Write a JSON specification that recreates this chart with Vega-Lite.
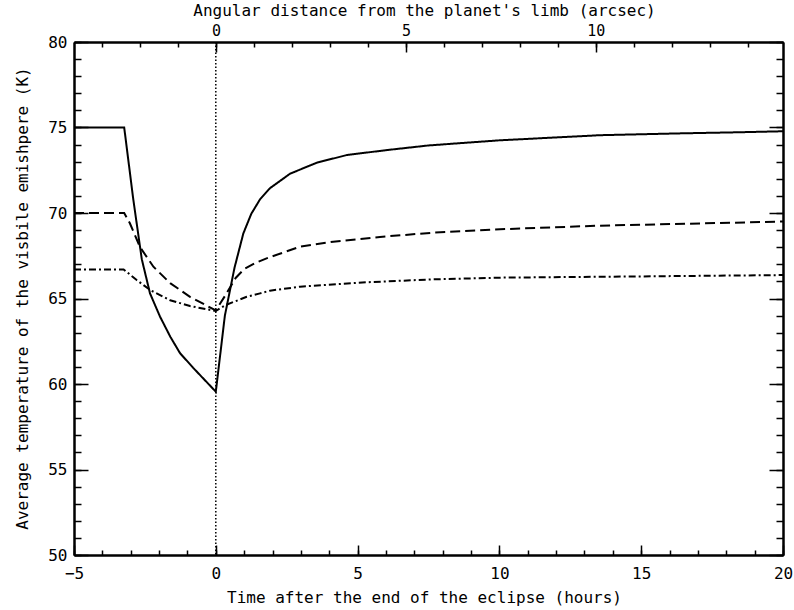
{
  "$schema": "https://vega.github.io/schema/vega-lite/v6.json",
  "width": 709,
  "height": 513,
  "autosize": {"type": "none"},
  "padding": {"left": 74, "top": 42, "right": 11, "bottom": 55},
  "background": "white",
  "config": {
    "view": {"stroke": null},
    "axis": {
      "grid": false,
      "domainColor": "black",
      "domainWidth": 2,
      "tickColor": "black",
      "tickWidth": 1.5,
      "labelColor": "black",
      "titleColor": "black",
      "labelFont": "DejaVu Sans Mono",
      "titleFont": "DejaVu Sans Mono",
      "labelFontSize": 16,
      "titleFontSize": 16,
      "titleFontWeight": "normal",
      "labelFlush": false,
      "labelOverlap": false
    }
  },
  "datasets": {
    "curves": [
      {"model": "solid", "t": -5, "T": 75.0},
      {"model": "solid", "t": -3.23, "T": 75.0},
      {"model": "solid", "t": -2.91, "T": 70.8},
      {"model": "solid", "t": -2.61, "T": 67.3},
      {"model": "solid", "t": -2.32, "T": 65.3},
      {"model": "solid", "t": -1.97, "T": 63.95},
      {"model": "solid", "t": -1.6, "T": 62.75},
      {"model": "solid", "t": -1.26, "T": 61.8},
      {"model": "solid", "t": -0.8, "T": 60.95},
      {"model": "solid", "t": -0.4, "T": 60.25},
      {"model": "solid", "t": 0, "T": 59.55},
      {"model": "solid", "t": 0.32, "T": 64.0},
      {"model": "solid", "t": 0.66, "T": 66.8},
      {"model": "solid", "t": 0.97, "T": 68.8},
      {"model": "solid", "t": 1.25, "T": 69.95},
      {"model": "solid", "t": 1.56, "T": 70.8},
      {"model": "solid", "t": 1.91, "T": 71.45},
      {"model": "solid", "t": 2.62, "T": 72.3},
      {"model": "solid", "t": 3.56, "T": 72.94},
      {"model": "solid", "t": 4.62, "T": 73.39},
      {"model": "solid", "t": 6.03, "T": 73.68},
      {"model": "solid", "t": 7.5, "T": 73.95},
      {"model": "solid", "t": 10, "T": 74.25},
      {"model": "solid", "t": 13.55, "T": 74.55},
      {"model": "solid", "t": 16.47, "T": 74.66},
      {"model": "solid", "t": 18.41, "T": 74.72},
      {"model": "solid", "t": 20, "T": 74.78},
      {"model": "dashed", "t": -5, "T": 70.0},
      {"model": "dashed", "t": -3.23, "T": 70.0},
      {"model": "dashed", "t": -3.03, "T": 69.4},
      {"model": "dashed", "t": -2.67, "T": 68.0},
      {"model": "dashed", "t": -2.2, "T": 66.86},
      {"model": "dashed", "t": -1.61, "T": 65.9},
      {"model": "dashed", "t": -0.91, "T": 65.1},
      {"model": "dashed", "t": 0, "T": 64.3},
      {"model": "dashed", "t": 0.38, "T": 65.3},
      {"model": "dashed", "t": 0.7, "T": 66.2},
      {"model": "dashed", "t": 1.0, "T": 66.72},
      {"model": "dashed", "t": 1.4, "T": 67.08},
      {"model": "dashed", "t": 1.79, "T": 67.35},
      {"model": "dashed", "t": 2.97, "T": 68.03},
      {"model": "dashed", "t": 4.14, "T": 68.32},
      {"model": "dashed", "t": 5.79, "T": 68.6},
      {"model": "dashed", "t": 7.67, "T": 68.85},
      {"model": "dashed", "t": 10.02, "T": 69.05},
      {"model": "dashed", "t": 13.55, "T": 69.26},
      {"model": "dashed", "t": 20, "T": 69.5},
      {"model": "dashdot", "t": -5, "T": 66.7},
      {"model": "dashdot", "t": -3.25, "T": 66.7},
      {"model": "dashdot", "t": -2.79, "T": 66.08},
      {"model": "dashdot", "t": -2.32, "T": 65.5},
      {"model": "dashdot", "t": -1.61, "T": 64.9},
      {"model": "dashdot", "t": -0.91, "T": 64.56},
      {"model": "dashdot", "t": 0, "T": 64.27},
      {"model": "dashdot", "t": 0.35, "T": 64.62},
      {"model": "dashdot", "t": 1.09, "T": 65.1},
      {"model": "dashdot", "t": 1.56, "T": 65.3},
      {"model": "dashdot", "t": 1.91, "T": 65.46},
      {"model": "dashdot", "t": 2.97, "T": 65.69},
      {"model": "dashdot", "t": 5.32, "T": 65.95},
      {"model": "dashdot", "t": 7.67, "T": 66.12},
      {"model": "dashdot", "t": 10.02, "T": 66.22},
      {"model": "dashdot", "t": 13.55, "T": 66.27},
      {"model": "dashdot", "t": 20, "T": 66.37}
    ],
    "limb": [{"t": 0}],
    "arcsec": [{"a": 0}, {"a": 5}, {"a": 10}]
  },
  "layer": [
    {
      "data": {"name": "curves"},
      "layer": [
        {
          "mark": {"type": "line", "strokeWidth": 2, "color": "black"},
          "encoding": {
            "x": {
              "field": "t", "type": "quantitative",
              "scale": {"domain": [-5, 20], "nice": false, "zero": false},
              "axis": {
                "orient": "bottom",
                "values": [-5, 0, 5, 10, 15, 20],
                "tickSize": -10,
                "labelPadding": 20,
                "title": "Time after the end of the eclipse (hours)",
                "titleX": 350,
                "titleY": 42,
                "titleBaseline": "middle"
              }
            },
            "y": {
              "field": "T", "type": "quantitative",
              "scale": {"domain": [50, 80], "nice": false, "zero": false},
              "axis": {
                "orient": "left",
                "values": [50, 55, 60, 65, 70, 75, 80],
                "tickSize": -14,
                "labelPadding": 21,
                "title": "Average temperature of the visbile emishpere (K)",
                "titleX": -52,
                "titleY": 256,
                "titleBaseline": "middle"
              }
            },
            "strokeDash": {
              "field": "model", "type": "nominal",
              "scale": {"domain": ["solid", "dashed", "dashdot"], "range": [[1, 0], [10, 5], [7, 3, 2, 3]]},
              "legend": null
            }
          }
        },
        {
          "data": {"name": "limb"},
          "mark": {"type": "rule", "strokeDash": [1.5, 2], "strokeWidth": 1.5, "color": "black"},
          "encoding": {
            "x": {"field": "t", "type": "quantitative", "axis": null}
          }
        },
        {
          "mark": {"type": "point", "opacity": 0},
          "encoding": {
            "x": {
              "field": "t", "type": "quantitative",
              "axis": {"orient": "bottom", "values": [-5,-4,-3,-2,-1,0,1,2,3,4,5,6,7,8,9,10,11,12,13,14,15,16,17,18,19,20], "tickSize": -5, "labels": false, "title": null}
            },
            "y": {
              "field": "T", "type": "quantitative",
              "axis": {"orient": "left", "values": [50,51,52,53,54,55,56,57,58,59,60,61,62,63,64,65,66,67,68,69,70,71,72,73,74,75,76,77,78,79,80], "tickSize": -7, "labels": false, "title": null}
            }
          }
        },
        {
          "mark": {"type": "point", "opacity": 0},
          "encoding": {
            "x": {"field": "t", "type": "quantitative", "axis": null},
            "y": {
              "field": "T", "type": "quantitative",
              "axis": {"orient": "right", "values": [50, 55, 60, 65, 70, 75, 80], "tickSize": -14, "labels": false, "title": null}
            }
          }
        },
        {
          "mark": {"type": "point", "opacity": 0},
          "encoding": {
            "x": {"field": "t", "type": "quantitative", "axis": null},
            "y": {
              "field": "T", "type": "quantitative",
              "axis": {"orient": "right", "values": [50,51,52,53,54,55,56,57,58,59,60,61,62,63,64,65,66,67,68,69,70,71,72,73,74,75,76,77,78,79,80], "tickSize": -7, "labels": false, "title": null}
            }
          }
        }
      ],
      "resolve": {"axis": {"x": "independent", "y": "independent"}}
    },
    {
      "data": {"name": "arcsec"},
      "layer": [
        {
          "mark": {"type": "point", "opacity": 0},
          "encoding": {
            "x": {
              "field": "a", "type": "quantitative",
              "scale": {"domain": [-3.74, 14.93], "nice": false, "zero": false},
              "axis": {
                "orient": "top",
                "values": [0, 5, 10],
                "tickSize": -10,
                "labelPadding": 14,
                "labelFontSize": 15,
                "title": "Angular distance from the planet's limb (arcsec)",
                "titleX": 350,
                "titleY": -32,
                "titleBaseline": "middle"
              }
            }
          }
        },
        {
          "mark": {"type": "point", "opacity": 0},
          "encoding": {
            "x": {
              "field": "a", "type": "quantitative",
              "axis": {"orient": "top", "values": [-3,-2,-1,0,1,2,3,4,5,6,7,8,9,10,11,12,13,14], "tickSize": -5, "labels": false, "title": null}
            }
          }
        }
      ],
      "resolve": {"axis": {"x": "independent"}}
    }
  ],
  "resolve": {"scale": {"x": "independent"}}
}
